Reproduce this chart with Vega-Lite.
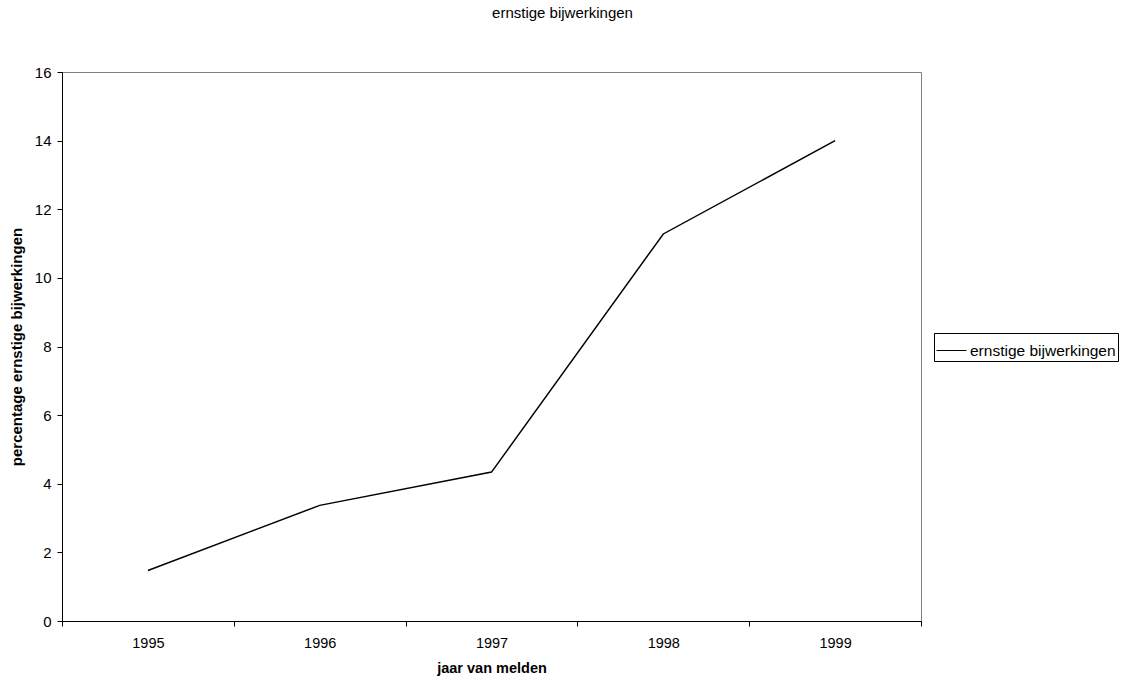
{
  "$schema": "https://vega.github.io/schema/vega-lite/v6.json",
  "width": 859,
  "height": 549,
  "autosize": {"type": "none"},
  "padding": {"left": 62, "top": 72, "right": 206, "bottom": 58},
  "background": "white",
  "title": {
    "text": "ernstige bijwerkingen",
    "font": "Liberation Sans",
    "fontSize": 15,
    "fontWeight": "normal",
    "color": "#000000",
    "anchor": "middle",
    "dx": 71,
    "offset": 44
  },
  "config": {
    "view": {"stroke": "#808080", "strokeWidth": 1},
    "font": "Liberation Sans"
  },
  "data": {
    "values": [
      {"jaar": "1995", "percentage": 1.47, "reeks": "ernstige bijwerkingen"},
      {"jaar": "1996", "percentage": 3.37, "reeks": "ernstige bijwerkingen"},
      {"jaar": "1997", "percentage": 4.34, "reeks": "ernstige bijwerkingen"},
      {"jaar": "1998", "percentage": 11.28, "reeks": "ernstige bijwerkingen"},
      {"jaar": "1999", "percentage": 14.0, "reeks": "ernstige bijwerkingen"}
    ]
  },
  "mark": {"type": "line", "strokeWidth": 1.5},
  "encoding": {
    "x": {
      "field": "jaar",
      "type": "ordinal",
      "scale": {"type": "band", "paddingInner": 0, "paddingOuter": 0},
      "axis": {
        "title": "jaar van melden",
        "titleFont": "Liberation Sans",
        "titleFontSize": 14.5,
        "titleFontWeight": "bold",
        "titleColor": "#000000",
        "titlePadding": 12,
        "labelAngle": 0,
        "labelFont": "Liberation Sans",
        "labelFontSize": 14.5,
        "labelColor": "#000000",
        "labelPadding": 10,
        "tickBand": "extent",
        "tickSize": 5,
        "tickColor": "#000000",
        "domainColor": "#000000",
        "grid": false
      }
    },
    "y": {
      "field": "percentage",
      "type": "quantitative",
      "scale": {"domain": [0, 16], "nice": false},
      "axis": {
        "title": "percentage ernstige bijwerkingen",
        "titleFont": "Liberation Sans",
        "titleFontSize": 15,
        "titleFontWeight": "bold",
        "titleColor": "#000000",
        "titlePadding": 10,
        "values": [0, 2, 4, 6, 8, 10, 12, 14, 16],
        "labelFont": "Liberation Sans",
        "labelFontSize": 15,
        "labelColor": "#000000",
        "labelPadding": 6,
        "tickSize": 5,
        "tickColor": "#000000",
        "domainColor": "#000000",
        "grid": false
      }
    },
    "color": {
      "field": "reeks",
      "type": "nominal",
      "scale": {"range": ["#000000"]},
      "legend": {
        "title": null,
        "orient": "none",
        "legendX": 872,
        "legendY": 261,
        "strokeColor": "#000000",
        "padding": 2,
        "symbolType": "stroke",
        "symbolSize": 900,
        "symbolStrokeWidth": 1,
        "labelFont": "Liberation Sans",
        "labelFontSize": 15.5,
        "labelColor": "#000000",
        "labelOffset": 3
      }
    }
  }
}
